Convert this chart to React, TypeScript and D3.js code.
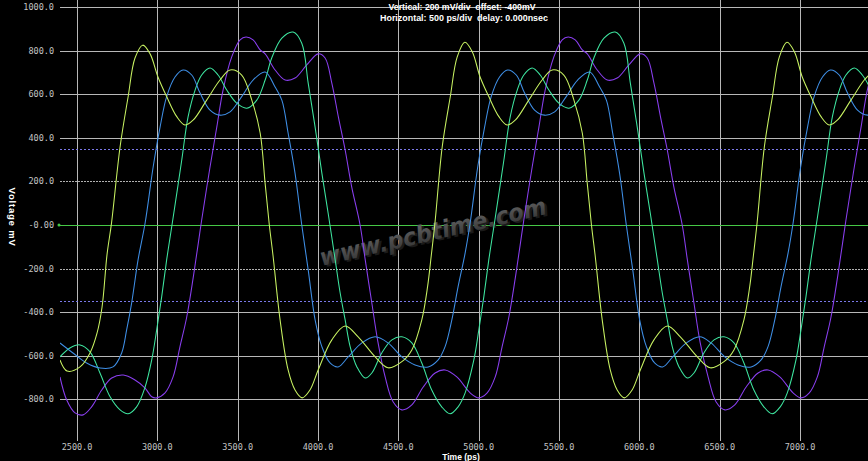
import React from "react";
import * as d3 from "d3";

type P = [number, number];

const xTicks = [2500, 3000, 3500, 4000, 4500, 5000, 5500, 6000, 6500, 7000];
const xTickLabels = ["2500.0", "3000.0", "3500.0", "4000.0", "4500.0", "5000.0", "5500.0", "6000.0", "6500.0", "7000.0"];
const ySolidTicks = [1000, 800, 600, 400, -400, -600, -800];
const yDottedGrayTicks = [200, -200];
const yThresholds = [350, -350];
const yTicks = [1000, 800, 600, 400, 200, 0, -200, -400, -600, -800];
const yTickLabels = ["1000.0", "800.0", "600.0", "400.0", "200.0", "-0.00", "-200.0", "-400.0", "-600.0", "-800.0"];

const titleLines = ["Vertical: 200 mV/div  offset: -400mV", "Horizontal: 500 ps/div  delay: 0.000nsec"];
const xTitle = "Time (ps)";
const yTitle = "Voltage mV";
const watermark = "www.pcbtime.com";

const traceYellow: P[] = [
  [2394, -619], [2438, -670], [2519, -651], [2581, -587], [2625, -495], [2656, -376], [2687, -135], [2715, 10],
  [2768, 358], [2818, 587], [2861, 766], [2909, 825], [2955, 785], [3004, 679], [3058, 589], [3121, 497],
  [3172, 459], [3224, 482], [3307, 573], [3390, 665], [3453, 711], [3525, 688], [3588, 573], [3640, 422],
  [3671, 190], [3697, 0], [3720, -140], [3764, -435], [3814, -665], [3857, -757], [3901, -793], [3950, -757],
  [4001, -665], [4086, -527], [4169, -463], [4250, -513], [4356, -605],
  [4436, -655], [4522, -627], [4584, -573], [4646, -435], [4682, -283], [4705, -140], [4728, 10],
  [4773, 358], [4823, 587], [4866, 770], [4914, 838], [4960, 795], [5009, 679], [5063, 589], [5126, 497],
  [5177, 459], [5229, 482], [5312, 573], [5395, 665], [5458, 711], [5530, 688], [5593, 573], [5645, 422],
  [5676, 190], [5702, 0], [5725, -140], [5769, -435], [5819, -665], [5862, -757], [5906, -793], [5955, -757],
  [6006, -665], [6091, -527], [6174, -463], [6255, -513], [6361, -605],
  [6441, -655], [6527, -627], [6589, -573], [6651, -435], [6687, -283], [6710, -140], [6733, 10],
  [6778, 358], [6828, 587], [6871, 770], [6919, 838], [6965, 795], [7014, 679], [7068, 589], [7131, 497],
  [7182, 459], [7234, 482], [7317, 573], [7400, 665], [7463, 711],
];

const traceBlue: P[] = [
  [2394, -541], [2475, -587], [2560, -633], [2643, -656], [2724, -651], [2778, -587], [2809, -481], [2840, -358],
  [2880, -160], [2924, 9], [2974, 266], [3017, 449], [3058, 589], [3110, 679], [3160, 711], [3214, 688],
  [3266, 605], [3328, 527], [3390, 504], [3453, 519], [3525, 589], [3596, 665], [3671, 702], [3733, 633],
  [3775, 573], [3814, 422], [3857, 238], [3899, 0], [3939, -206], [3982, -435], [4024, -558], [4075, -633],
  [4125, -651], [4188, -605], [4273, -541], [4356, -513],
  [4436, -541], [4522, -605], [4604, -642], [4686, -651], [4748, -619], [4791, -558], [4833, -435], [4872, -283],
  [4916, -128], [4947, 9],
  [4994, 266], [5037, 449], [5078, 589], [5130, 679], [5180, 711], [5234, 688], [5286, 605], [5348, 527],
  [5410, 504], [5473, 519], [5545, 589], [5616, 665], [5691, 702], [5753, 633], [5795, 573], [5834, 422],
  [5877, 238], [5919, 0], [5959, -206], [6002, -435], [6044, -558], [6095, -633], [6145, -651], [6208, -605],
  [6293, -541], [6376, -513],
  [6446, -541], [6532, -605], [6614, -642], [6696, -651], [6758, -619], [6801, -558], [6843, -435], [6882, -283],
  [6926, -128], [6957, 9],
  [7004, 266], [7047, 449], [7088, 589], [7140, 679], [7190, 711], [7244, 688], [7296, 605], [7358, 527],
  [7420, 504], [7483, 519],
];

const traceGreen: P[] = [
  [2394, -605], [2456, -564], [2519, -550], [2581, -582], [2643, -679], [2706, -788], [2768, -848], [2818, -866],
  [2871, -834], [2924, -743], [2965, -619], [2996, -481], [3027, -330], [3058, -160], [3096, 23], [3152, 298],
  [3191, 495], [3235, 619], [3276, 688], [3328, 720], [3378, 688], [3432, 619], [3494, 559], [3557, 536],
  [3619, 573], [3671, 665], [3712, 766], [3775, 857], [3845, 885], [3899, 834], [3939, 651], [3982, 449],
  [4024, 238], [4063, 55], [4107, -160], [4138, -312], [4169, -435], [4200, -558], [4242, -651], [4294, -702],
  [4335, -679],
  [4397, -587], [4460, -527], [4522, -513], [4584, -541], [4646, -633], [4708, -757], [4770, -834], [4822, -866],
  [4872, -834], [4916, -770],
  [4970, -619], [5001, -481], [5032, -330], [5063, -160], [5101, 23], [5157, 298], [5196, 495], [5240, 619],
  [5281, 688], [5333, 720], [5383, 688], [5437, 619], [5499, 559], [5562, 536], [5624, 573], [5676, 665],
  [5717, 766], [5780, 857], [5850, 885], [5904, 834], [5944, 651], [5987, 449], [6029, 238], [6068, 55],
  [6112, -160], [6143, -312], [6174, -435], [6205, -558], [6247, -651], [6299, -702], [6340, -679],
  [6402, -587], [6465, -527], [6527, -513], [6589, -541], [6651, -633], [6713, -757], [6775, -834], [6827, -866],
  [6877, -834], [6921, -770],
  [6975, -619], [7006, -481], [7037, -330], [7068, -160], [7106, 23], [7162, 298], [7201, 495], [7245, 619],
  [7286, 688], [7338, 720], [7388, 688], [7442, 619],
];

const tracePurple: P[] = [
  [2394, -697], [2436, -803], [2488, -862], [2538, -871], [2591, -834], [2654, -757], [2716, -702], [2788, -688],
  [2861, -711], [2924, -748], [2965, -788], [2996, -793], [3048, -770], [3098, -697], [3141, -558], [3183, -422],
  [3224, -238], [3255, -83], [3276, 23], [3328, 266], [3370, 449], [3409, 619], [3463, 771], [3515, 849],
  [3552, 862], [3596, 849], [3640, 803], [3671, 785], [3733, 711], [3795, 665], [3857, 674], [3930, 734],
  [4001, 785], [4044, 766], [4086, 651], [4127, 495], [4169, 344], [4210, 174], [4262, 0], [4294, -160],
  [4335, -358], [4374, -541],
  [4418, -697], [4468, -812], [4522, -848], [4584, -825], [4655, -743], [4729, -679], [4791, -665], [4864, -697],
  [4947, -770],
  [5001, -793], [5053, -770], [5103, -697], [5146, -558], [5188, -422], [5229, -238], [5260, -83], [5281, 23],
  [5333, 266], [5375, 449], [5414, 619], [5468, 771], [5520, 849], [5557, 862], [5601, 849], [5645, 803],
  [5676, 785], [5738, 711], [5800, 665], [5862, 674], [5935, 734], [6006, 785], [6049, 766], [6091, 651],
  [6132, 495], [6174, 344], [6215, 174], [6267, 0], [6299, -160], [6340, -358], [6379, -541],
  [6428, -697], [6478, -812], [6532, -848], [6594, -825], [6665, -743], [6739, -679], [6801, -665], [6874, -697],
  [6957, -770],
  [7006, -793], [7058, -770], [7108, -697], [7151, -558], [7193, -422], [7234, -238], [7265, -83], [7286, 23],
  [7338, 266], [7380, 449], [7419, 619], [7473, 771],
];

const traces: { data: P[]; color: string }[] = [
  { data: tracePurple, color: "#8a3ff0" },
  { data: traceGreen, color: "#3ee6a0" },
  { data: traceBlue, color: "#3f8fe6" },
  { data: traceYellow, color: "#c8f262" },
];

const W = 868;
const H = 461;
const PL = 60;
const PR = 868;
const PT = 0;
const PB = 443;

export default function App() {
  const x = d3.scaleLinear().domain([2500, 7000]).range([77, 800]);
  const y = d3.scaleLinear().domain([-1000, 1000]).range([443, 7]);
  const line = d3
    .line<P>()
    .x((d) => x(d[0]))
    .y((d) => y(d[1]))
    .curve(d3.curveCatmullRom.alpha(0.5));

  const mono = "'DejaVu Sans Mono', monospace";
  const sans = "'Liberation Sans', Arial, sans-serif";

  return (
    <>
      <style>{`body{margin:0;background:#000;overflow:hidden}`}</style>
      <svg width={W} height={H} style={{ display: "block", background: "#000" }}>
        <defs>
          <clipPath id="plot">
            <rect x={PL} y={PT} width={PR - PL} height={PB - PT} />
          </clipPath>
          <linearGradient id="wm" x1="0" y1="0" x2="0" y2="1">
            <stop offset="0" stopColor="#6a6a6a" />
            <stop offset="1" stopColor="#2e2e2e" />
          </linearGradient>
        </defs>
        <rect x={0} y={0} width={W} height={H} fill="#000" />

        {xTicks.map((t) => (
          <line key={"vx" + t} x1={Math.round(x(t)) + 0.5} x2={Math.round(x(t)) + 0.5} y1={0} y2={441} stroke="#b8b8b8" strokeWidth={1} />
        ))}
        {ySolidTicks.map((v) => (
          <line key={"hy" + v} x1={PL} x2={PR} y1={Math.round(y(v)) + 0.5} y2={Math.round(y(v)) + 0.5} stroke="#b8b8b8" strokeWidth={1} />
        ))}
        {yDottedGrayTicks.map((v) => (
          <line key={"hd" + v} x1={PL} x2={PR} y1={Math.round(y(v)) + 0.5} y2={Math.round(y(v)) + 0.5} stroke="#b0b0b0" strokeWidth={1} strokeDasharray="2 1" />
        ))}
        {yThresholds.map((v) => (
          <line key={"th" + v} x1={PL} x2={PR} y1={Math.round(y(v)) + 0.5} y2={Math.round(y(v)) + 0.5} stroke="#7a78e8" strokeWidth={1} strokeDasharray="2 2" />
        ))}
        <line x1={PL} x2={PR} y1={Math.round(y(0)) + 0.5} y2={Math.round(y(0)) + 0.5} stroke="#46c846" strokeWidth={1} />
        <circle cx={PL - 1} cy={y(0)} r={1.5} fill="#46c846" />

        <g transform={`rotate(-13, 433, 232)`}>
          <text x={435} y={242} textAnchor="middle" fontFamily="'DejaVu Sans', sans-serif" fontWeight="bold" fontStyle="italic" fontSize={24} fill="#1a1a1a" textLength={232} lengthAdjust="spacingAndGlyphs">{watermark}</text>
          <text x={433} y={240} textAnchor="middle" fontFamily="'DejaVu Sans', sans-serif" fontWeight="bold" fontStyle="italic" fontSize={24} fill="url(#wm)" textLength={232} lengthAdjust="spacingAndGlyphs">{watermark}</text>
        </g>

        <g clipPath="url(#plot)">
          {traces.map((tr, i) => (
            <path key={i} d={line(tr.data) || ""} fill="none" stroke={tr.color} strokeWidth={1.05} />
          ))}
        </g>

        {yTicks.map((v, i) => (
          <text key={"yl" + v} x={54} y={y(v) + 3} textAnchor="end" fontFamily={mono} fontSize={8.5} fill="#c4c4c4">{yTickLabels[i]}</text>
        ))}
        {xTicks.map((t, i) => (
          <text key={"xl" + t} x={x(t)} y={450} textAnchor="middle" fontFamily={mono} fontSize={8.5} fill="#c4c4c4">{xTickLabels[i]}</text>
        ))}

        <text x={462} y={10} textAnchor="middle" fontFamily={sans} fontWeight="bold" fontSize={9} fill="#fff" textLength={147} lengthAdjust="spacingAndGlyphs" style={{ whiteSpace: "pre" }}>{titleLines[0]}</text>
        <text x={464} y={21} textAnchor="middle" fontFamily={sans} fontWeight="bold" fontSize={9} fill="#fff" textLength={168} lengthAdjust="spacingAndGlyphs" style={{ whiteSpace: "pre" }}>{titleLines[1]}</text>
        <text x={461} y={460} textAnchor="middle" fontFamily={sans} fontWeight="bold" fontSize={8.5} fill="#fff">{xTitle}</text>
        <text transform={`translate(9, 217) rotate(90)`} textAnchor="middle" fontFamily={sans} fontWeight="bold" fontSize={9.5} letterSpacing={0.8} fill="#fff">{yTitle}</text>
      </svg>
    </>
  );
}
